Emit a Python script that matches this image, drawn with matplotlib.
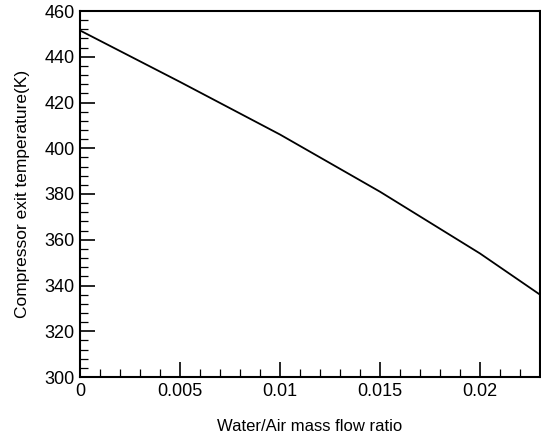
import matplotlib
matplotlib.use("Agg")
import matplotlib.pyplot as plt
from matplotlib.ticker import MultipleLocator

plt.rcParams['font.family'] = ['Liberation Sans', 'DejaVu Sans']

ratio = [0.0, 0.005, 0.01, 0.015, 0.02, 0.023]
temp = [451.5, 429.0, 406.0, 381.0, 354.0, 336.0]

xticks = [0, 0.005, 0.01, 0.015, 0.02]
xtick_labels = ["0", "0.005", "0.01", "0.015", "0.02"]
yticks = [300, 320, 340, 360, 380, 400, 420, 440, 460]

fig = plt.figure(figsize=(5.41, 4.38), dpi=100)
ax = fig.add_axes([80/541, (438-377)/438, (540-80)/541, (377-11)/438])
ax.plot(ratio, temp, color='black', lw=1.3)

ax.set_xlim(0, 0.023)
ax.set_ylim(300, 460)
ax.set_xticks(xticks)
ax.set_xticklabels(xtick_labels)
ax.set_yticks(yticks)
ax.xaxis.set_minor_locator(MultipleLocator(0.001))
ax.yaxis.set_minor_locator(MultipleLocator(4))
ax.tick_params(which='major', direction='in', length=11, width=1.2, labelsize=13, pad=4)
ax.tick_params(which='minor', direction='in', length=6, width=0.9)
ax.tick_params(top=False, right=False, which='both')
for s in ax.spines.values():
    s.set_linewidth(1.5)

ax.set_xlabel("Water/Air mass flow ratio", fontsize=12, labelpad=14)
ax.set_ylabel("Compressor exit temperature(K)", fontsize=12.5, labelpad=10)

fig.savefig("out.png", dpi=100)
